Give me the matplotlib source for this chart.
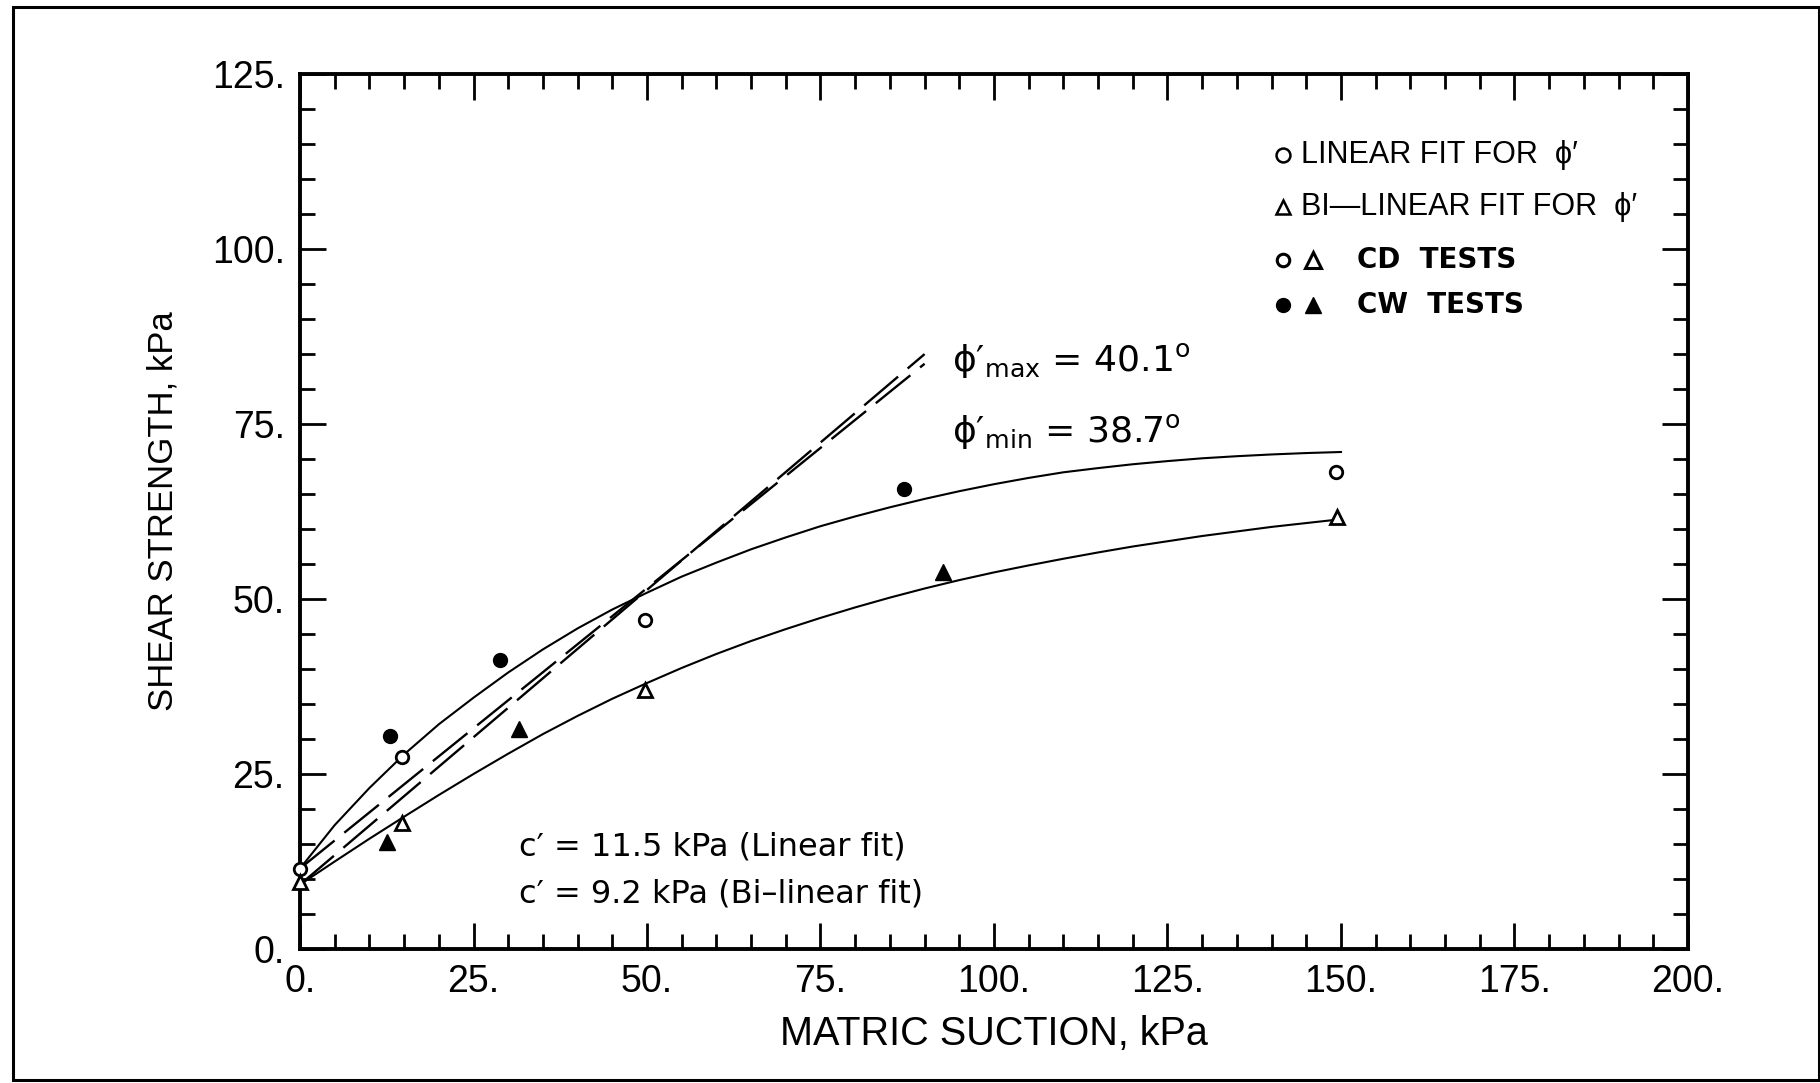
import numpy as np
import matplotlib
matplotlib.use("Agg")
import matplotlib.pyplot as plt
from matplotlib.patches import Rectangle
from matplotlib.ticker import FixedLocator, FixedFormatter, MultipleLocator

plt.rcParams['font.family'] = ['Liberation Sans', 'DejaVu Sans']
plt.rcParams['mathtext.fontset'] = 'dejavusans'
plt.rcParams['lines.scale_dashes'] = False

# axis ticks
x_ticks = [0, 25, 50, 75, 100, 125, 150, 175, 200]
x_tick_labels = ["0.", "25.", "50.", "75.", "100.", "125.", "150.", "175.", "200."]
y_ticks = [0, 25, 50, 75, 100, 125]
y_tick_labels = ["0.", "25.", "50.", "75.", "100.", "125."]

# CD tests (matric suction, shear strength), kPa
cd_circle_x = [0, 14.7, 49.7, 149.3]
cd_circle_y = [11.5, 27.4, 47.0, 68.2]
cd_tri_x = [0, 14.7, 49.7, 149.4]
cd_tri_y = [9.6, 18.0, 37.0, 61.7]

# CW tests
cw_circle_x = [13.0, 28.8, 87.0]
cw_circle_y = [30.5, 41.3, 65.7]
cw_tri_x = [12.6, 31.6, 92.6]
cw_tri_y = [15.3, 31.5, 53.8]

# fitted curves, read every 5 kPa of suction
fit_x = [0, 5, 10, 15, 20, 25, 30, 35, 40, 45, 50, 55, 60, 65, 70, 75,
         80, 85, 90, 95, 100, 105, 110, 115, 120, 125, 130, 135, 140, 145, 150]
linear_fit_y = [11.5, 17.7, 23.0, 27.8, 32.1, 35.9, 39.5, 42.8, 45.8, 48.5, 50.9,
                53.2, 55.2, 57.1, 58.8, 60.4, 61.8, 63.1, 64.3, 65.4, 66.4, 67.3,
                68.1, 68.7, 69.25, 69.7, 70.1, 70.4, 70.65, 70.85, 71.0]
bilinear_fit_y = [9.2, 12.5, 15.75, 18.9, 22.0, 25.0, 27.9, 30.7, 33.3, 35.75, 38.0,
                  40.15, 42.15, 44.0, 45.7, 47.3, 48.8, 50.2, 51.5, 52.7, 53.8, 54.8,
                  55.75, 56.65, 57.5, 58.25, 59.0, 59.65, 60.3, 60.85, 61.4]

# effective cohesion and friction angles
c_linear = 11.5
c_bilinear = 9.2
phi_max = 40.1
phi_min = 38.7
phi_line_end = 90.0

fig = plt.figure(figsize=(18.2, 10.83), dpi=100)
ax = fig.add_axes([300 / 1820, 134 / 1083, 1388 / 1820, 875 / 1083])

# envelopes with slope tan(phi')
xs = np.array([0.0, phi_line_end])
ax.plot(xs, c_linear + np.tan(np.radians(phi_min)) * xs, color='black', lw=1.7,
        dashes=(32, 9), clip_on=False)
ax.plot(xs, c_bilinear + np.tan(np.radians(phi_max)) * xs, color='black', lw=1.7,
        dashes=(32, 9), clip_on=False)

ax.plot(fit_x, linear_fit_y, color='black', lw=1.5, clip_on=False)
ax.plot(fit_x, bilinear_fit_y, color='black', lw=1.5, clip_on=False)

mk = dict(linestyle='none', color='black', clip_on=False, zorder=5)
ax.plot(cd_circle_x, cd_circle_y, marker='o', ms=9, mfc='white', mew=2, **mk)
ax.plot(cd_tri_x, cd_tri_y, marker='^', ms=10, mfc='white', mew=2, **mk)
ax.plot(cw_circle_x, cw_circle_y, marker='o', ms=10, mfc='black', **mk)
ax.plot(cw_tri_x, cw_tri_y, marker='^', ms=11, mfc='black', **mk)

ax.set_xlim(0, 200)
ax.set_ylim(0, 125)
ax.xaxis.set_major_locator(FixedLocator(x_ticks))
ax.xaxis.set_major_formatter(FixedFormatter(x_tick_labels))
ax.yaxis.set_major_locator(FixedLocator(y_ticks))
ax.yaxis.set_major_formatter(FixedFormatter(y_tick_labels))
ax.xaxis.set_minor_locator(MultipleLocator(5))
ax.yaxis.set_minor_locator(MultipleLocator(5))
ax.tick_params(which='major', direction='in', length=19, width=2, top=True, right=True,
               labelsize=27, pad=11)
ax.tick_params(which='minor', direction='in', length=11, width=2, top=True, right=True)
for s in ax.spines.values():
    s.set_linewidth(2.8)

ax.set_xlabel("MATRIC SUCTION, kPa", fontsize=28.5)
ax.set_ylabel("SHEAR STRENGTH, kPa", fontsize=25)
ax.xaxis.set_label_coords(0.5, -0.076)
ax.yaxis.set_label_coords(-0.087, 0.5)

# legend block
lk = dict(color='black', clip_on=False, linestyle='none')
ax.plot([141.6], [113.5], marker='o', ms=10, mfc='white', mew=1.8, **lk)
ax.text(144.3, 113.5, "LINEAR FIT FOR  \u03d5\u2032", fontsize=22, va='center')
ax.plot([141.6], [106.0], marker='^', ms=10, mfc='white', mew=1.8, **lk)
ax.text(144.3, 106.0, "BI\u2014LINEAR FIT FOR  \u03d5\u2032", fontsize=22, va='center')
ax.plot([141.6], [98.4], marker='o', ms=9, mfc='white', mew=2.2, **lk)
ax.plot([146.0], [98.4], marker='^', ms=11, mfc='white', mew=2.2, **lk)
ax.text(152.3, 98.4, "CD  TESTS", fontsize=20, fontweight='bold', family='DejaVu Sans',
        va='center')
ax.plot([141.6], [92.0], marker='o', ms=10, mfc='black', **lk)
ax.plot([146.0], [92.0], marker='^', ms=12, mfc='black', **lk)
ax.text(152.3, 92.0, "CW  TESTS", fontsize=20, fontweight='bold', family='DejaVu Sans',
        va='center')

ax.text(94.0, 84.0, "\u03d5\u2032$_{\\rm max}$ = 40.1$^{\\rm o}$", fontsize=26, va='center',
        family='DejaVu Sans')
ax.text(94.0, 73.9, "\u03d5\u2032$_{\\rm min}$ = 38.7$^{\\rm o}$", fontsize=26, va='center',
        family='DejaVu Sans')

ax.text(31.5, 14.6, "c\u2032 = 11.5 kPa (Linear fit)", fontsize=23, va='center',
        family='DejaVu Sans')
ax.text(31.5, 7.9, "c\u2032 = 9.2 kPa (Bi\u2013linear fit)", fontsize=23, va='center',
        family='DejaVu Sans')

# frame around the whole figure
fig.add_artist(Rectangle((13 / 1820, 3 / 1083), 1806 / 1820, 1073 / 1083,
                         transform=fig.transFigure, fill=False, lw=2.2, color='black'))

fig.savefig("out.png", dpi=100)
